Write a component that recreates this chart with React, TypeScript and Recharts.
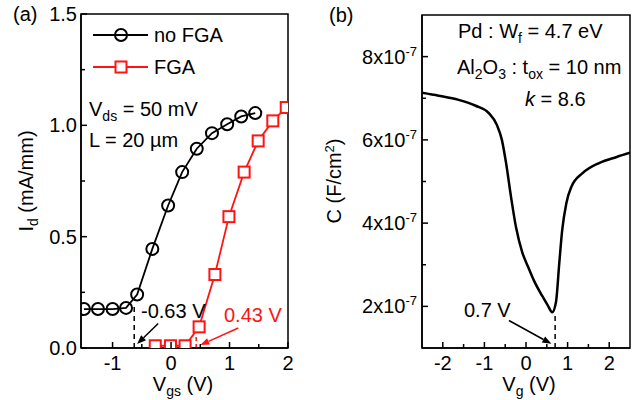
import React from "react";
import { LineChart, Line, XAxis, YAxis, ReferenceLine, ReferenceArea } from "recharts";

const FONT = "'Liberation Sans', Arial, Helvetica, sans-serif";
const RED = "#ff1414";
const AXIS = "#000";

// (a) transfer curves, Id (mA/mm) vs Vgs (V)
const noFgaVgs = [-1.49, -1.25, -1.0, -0.77, -0.58, -0.32, -0.05, 0.19, 0.44, 0.7, 0.96, 1.2, 1.44];
const noFgaId = [0.175, 0.175, 0.175, 0.18, 0.24, 0.445, 0.64, 0.79, 0.895, 0.965, 1.005, 1.04, 1.055];
const fgaVgs = [-0.27, -0.01, 0.24, 0.48, 0.75, 0.99, 1.25, 1.49, 1.74, 1.97];
const fgaId = [0.01, 0.01, 0.01, 0.095, 0.33, 0.59, 0.79, 0.93, 1.02, 1.08];

// (b) C-V curve, C (F/cm2) vs Vg (V)
const cvVg = [-2.5, -2.1, -1.62, -1.21, -0.9, -0.7, -0.58, -0.48, -0.36, -0.24, -0.09, 0.05, 0.2, 0.39, 0.52, 0.63, 0.72, 0.8, 0.87, 0.97, 1.09, 1.36, 1.77, 2.18, 2.5];
const cvC = [7.13e-7, 7.06e-7, 6.96e-7, 6.82e-7, 6.65e-7, 6.36e-7, 6.0e-7, 5.45e-7, 4.63e-7, 3.9e-7, 3.3e-7, 2.95e-7, 2.6e-7, 2.25e-7, 2.03e-7, 1.86e-7, 2.1e-7, 3.04e-7, 3.83e-7, 4.48e-7, 4.87e-7, 5.2e-7, 5.45e-7, 5.59e-7, 5.69e-7];

// axis ticks
const aXMajor = [-1, 0, 1, 2];
const aXMinor = [-0.5, 0.5, 1.5];
const aYMajor = [0, 0.5, 1.0, 1.5];
const aYMinor = [0.25, 0.75, 1.25];
const bXMajor = [-2, -1, 0, 1, 2];
const bXMinor = [-1.5, -0.5, 0.5, 1.5];
const bYMajor = [2e-7, 4e-7, 6e-7, 8e-7];
const bYMinor = [3e-7, 5e-7, 7e-7];

// threshold markers
const vthNoFga = -0.63;
const vthFga = 0.43;
const vfb = 0.7;

const noFgaData = noFgaVgs.map((x, i) => ({ x, y: noFgaId[i] }));
const fgaData = fgaVgs.map((x, i) => ({ x, y: fgaId[i] }));
const cvData = cvVg.map((x, i) => ({ x, y: cvC[i] }));

const FS = 20;
const SUB = 14;

function XTick(props: any) {
  const { x, y, payload, major } = props;
  const isMajor = major.includes(payload.value);
  return (
    <g>
      <line x1={x} y1={y} x2={x} y2={y - (isMajor ? 6 : 4)} stroke={AXIS} strokeWidth={1.5} />
      {isMajor && (
        <text x={x} y={y + 22} textAnchor="middle" fontSize={FS} fontFamily={FONT} fill="#000">
          {payload.value}
        </text>
      )}
    </g>
  );
}

function YTickA(props: any) {
  const { x, y, payload } = props;
  const isMajor = aYMajor.includes(payload.value);
  return (
    <g>
      <line x1={x} y1={y} x2={x + (isMajor ? 6 : 4)} y2={y} stroke={AXIS} strokeWidth={1.5} />
      {isMajor && (
        <text x={x - 4} y={y + 7} textAnchor="end" fontSize={FS} fontFamily={FONT} fill="#000">
          {payload.value.toFixed(1)}
        </text>
      )}
    </g>
  );
}

function YTickB(props: any) {
  const { x, y, payload } = props;
  const isMajor = bYMajor.includes(payload.value);
  const m = Math.round(payload.value * 1e7);
  return (
    <g>
      <line x1={x} y1={y} x2={x + (isMajor ? 6 : 4)} y2={y} stroke={AXIS} strokeWidth={1.5} />
      {isMajor && (
        <text x={x - 5} y={y + 7} textAnchor="end" fontSize={FS} fontFamily={FONT} fill="#000">
          {m}x10
          <tspan dy={-8} fontSize={13}>-7</tspan>
        </text>
      )}
    </g>
  );
}

// line with a filled arrow head at (x2, y2)
const arrow = (color: string) => (p: any) => {
  const { x1, y1, x2, y2 } = p;
  const a = Math.atan2(y2 - y1, x2 - x1);
  const L = 9;
  const W = 3.5;
  const bx = x2 - L * Math.cos(a);
  const by = y2 - L * Math.sin(a);
  const px = -Math.sin(a) * W;
  const py = Math.cos(a) * W;
  return (
    <g>
      <line x1={x1} y1={y1} x2={bx} y2={by} stroke={color} strokeWidth={1.5} />
      <polygon points={`${x2},${y2} ${bx + px},${by + py} ${bx - px},${by - py}`} fill={color} />
    </g>
  );
};

const squareDot = (p: any) => (
  <rect key={`sq-${p.index}`} x={p.cx - 5.5} y={p.cy - 5.5} width={11} height={11} fill="#fff" stroke={RED} strokeWidth={2} />
);

const txt = { fontFamily: FONT, fontSize: FS, fill: "#000" } as const;

export default function App() {
  return (
    <div style={{ position: "fixed", left: 0, top: 0, width: 633, height: 400, background: "#fff" }}>
      <div style={{ position: "absolute", left: 0, top: 0 }}>
        <LineChart width={300} height={400} margin={{ top: 14, right: 12, bottom: 0, left: 0 }}>
          <XAxis
            type="number"
            dataKey="x"
            domain={[-1.54, 2]}
            ticks={[...aXMajor, ...aXMinor]}
            interval={0}
            tickSize={0}
            tickMargin={0}
            tickLine={false}
            tick={(p: any) => <XTick {...p} major={aXMajor} />}
            axisLine={{ stroke: AXIS, strokeWidth: 1.5 }}
            height={52}
            allowDataOverflow
          />
          <YAxis
            type="number"
            domain={[0, 1.5]}
            ticks={[...aYMajor, ...aYMinor]}
            interval={0}
            tickSize={0}
            tickMargin={0}
            tickLine={false}
            tick={(p: any) => <YTickA {...p} />}
            axisLine={{ stroke: AXIS, strokeWidth: 1.5 }}
            width={81}
            allowDataOverflow
          />
          <ReferenceArea x1={-1.54} x2={2} y1={0} y2={1.5} fill="none" stroke={AXIS} strokeWidth={1.5} />
          <ReferenceLine
            segment={[{ x: vthNoFga, y: 0 }, { x: vthNoFga, y: 0.2 }]}
            stroke="#000"
            strokeWidth={1.5}
            strokeDasharray="5 4"
          />
          <ReferenceLine segment={[{ x: -0.22, y: 0.11 }, { x: -0.58, y: 0.018 }]} shape={arrow("#000")} />
          <ReferenceLine
            segment={[{ x: vthFga, y: 0 }, { x: vthFga, y: 0.05 }]}
            stroke={RED}
            strokeWidth={1.5}
            strokeDasharray="4 3"
          />
          <ReferenceLine segment={[{ x: 1.15, y: 0.09 }, { x: 0.5, y: 0.013 }]} shape={arrow(RED)} />
          <Line
            data={noFgaData}
            dataKey="y"
            type="linear"
            stroke="#000"
            strokeWidth={1.8}
            dot={{ r: 6, stroke: "#000", strokeWidth: 2, fill: "none" }}
            isAnimationActive={false}
          />
          <Line
            data={fgaData}
            dataKey="y"
            type="linear"
            stroke={RED}
            strokeWidth={1.8}
            dot={squareDot}
            isAnimationActive={false}
          />
        </LineChart>
      </div>

      <div style={{ position: "absolute", left: 320, top: 0 }}>
        <LineChart width={313} height={400} margin={{ top: 15, right: 3, bottom: 0, left: 0 }}>
          <XAxis
            type="number"
            dataKey="x"
            domain={[-2.5, 2.5]}
            ticks={[...bXMajor, ...bXMinor]}
            interval={0}
            tickSize={0}
            tickMargin={0}
            tickLine={false}
            tick={(p: any) => <XTick {...p} major={bXMajor} />}
            axisLine={{ stroke: AXIS, strokeWidth: 1.5 }}
            height={52}
            allowDataOverflow
          />
          <YAxis
            type="number"
            domain={[1e-7, 9e-7]}
            ticks={[...bYMajor, ...bYMinor]}
            interval={0}
            tickSize={0}
            tickMargin={0}
            tickLine={false}
            tick={(p: any) => <YTickB {...p} />}
            axisLine={{ stroke: AXIS, strokeWidth: 1.5 }}
            width={102}
            allowDataOverflow
          />
          <ReferenceArea x1={-2.5} x2={2.5} y1={1e-7} y2={9e-7} fill="none" stroke={AXIS} strokeWidth={1.5} />
          <ReferenceLine
            segment={[{ x: vfb, y: 1e-7 }, { x: vfb, y: 1.78e-7 }]}
            stroke="#000"
            strokeWidth={1.5}
            strokeDasharray="5 4"
          />
          <ReferenceLine segment={[{ x: -0.41, y: 1.66e-7 }, { x: 0.61, y: 1.1e-7 }]} shape={arrow("#000")} />
          <Line
            data={cvData}
            dataKey="y"
            type="monotone"
            stroke="#000"
            strokeWidth={2.5}
            dot={false}
            isAnimationActive={false}
          />
        </LineChart>
      </div>

      <svg width={633} height={400} style={{ position: "absolute", left: 0, top: 0, pointerEvents: "none" }}>
        {/* panel (a) */}
        <text x={13} y={21} {...txt}>(a)</text>
        <line x1={93} y1={35} x2={148} y2={35} stroke="#000" strokeWidth={1.8} />
        <circle cx={121} cy={35} r={6} fill="none" stroke="#000" strokeWidth={2} />
        <text x={154} y={42} {...txt}>no FGA</text>
        <line x1={93} y1={67} x2={148} y2={67} stroke={RED} strokeWidth={1.8} />
        <rect x={115.5} y={61.5} width={11} height={11} fill="#fff" stroke={RED} strokeWidth={2} />
        <text x={154} y={74} {...txt}>FGA</text>
        <text x={89} y={116} {...txt}>
          V<tspan dy={5} fontSize={SUB}>ds</tspan>
          <tspan dy={-5}> = 50 mV</tspan>
        </text>
        <text x={89} y={147} {...txt}>L = 20 µm</text>
        <text x={141} y={318} {...txt}>-0.63 V</text>
        <text x={224} y={322} {...txt} fill={RED}>0.43 V</text>
        <text x={183} y={391} {...txt} textAnchor="middle">
          V<tspan dy={5} fontSize={SUB}>gs</tspan>
          <tspan dy={-5}> (V)</tspan>
        </text>
        <text transform="translate(33,181) rotate(-90)" {...txt} textAnchor="middle">
          I<tspan dy={5} fontSize={SUB}>d</tspan>
          <tspan dy={-5}> (mA/mm)</tspan>
        </text>

        {/* panel (b) */}
        <text x={329} y={22} {...txt}>(b)</text>
        <text x={458} y={38} {...txt}>
          Pd : W<tspan dy={5} fontSize={SUB}>f</tspan>
          <tspan dy={-5}> = 4.7 eV</tspan>
        </text>
        <text x={457} y={74} {...txt}>
          Al<tspan dy={5} fontSize={SUB}>2</tspan>
          <tspan dy={-5}>O</tspan>
          <tspan dy={5} fontSize={SUB}>3</tspan>
          <tspan dy={-5}> : t</tspan>
          <tspan dy={5} fontSize={SUB}>ox</tspan>
          <tspan dy={-5}> = 10 nm</tspan>
        </text>
        <text x={525} y={106} {...txt}>
          <tspan fontStyle="italic">k</tspan> = 8.6
        </text>
        <text x={464} y={317} {...txt}>0.7 V</text>
        <text x={529} y={391} {...txt} textAnchor="middle">
          V<tspan dy={5} fontSize={SUB}>g</tspan>
          <tspan dy={-5}> (V)</tspan>
        </text>
        <text transform="translate(341,181) rotate(-90)" {...txt} textAnchor="middle">
          C (F/cm<tspan dy={-7} fontSize={13}>2</tspan>
          <tspan dy={7}>)</tspan>
        </text>
      </svg>
    </div>
  );
}
